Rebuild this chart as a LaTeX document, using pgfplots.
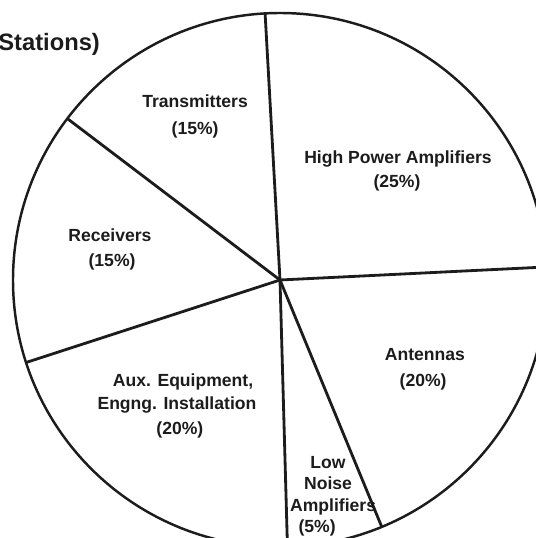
\documentclass[border=0pt]{standalone}
\usepackage{pgfplots}
\pgfplotsset{compat=1.18}
\usepackage{fontspec}
\setmainfont{Liberation Sans}
\definecolor{ink}{HTML}{1C1C1C}
\begin{document}
\begin{tikzpicture}
\begin{axis}[
  name=ax,
  scale only axis,
  width=10.72cm, height=10.76cm,
  xmin=-1.0487, xmax=0.9588,
  ymin=-0.9663, ymax=1.0487,
  hide axis,
  clip=true,
]
% pie outline
\draw[ink, line width=1.4pt] (axis cs:0,0) circle[radius=1];
% sector boundaries (angle in degrees, radius)
\addplot[ink, line width=1.6pt, data cs=polar] coordinates {(0,0) (93.2,1)};
\addplot[ink, line width=1.6pt, data cs=polar] coordinates {(0,0) (2.8,1)};
\addplot[ink, line width=1.6pt, data cs=polar] coordinates {(0,0) (-67.6,1)};
\addplot[ink, line width=1.6pt, data cs=polar] coordinates {(0,0) (-88.4,1.05)};
\addplot[ink, line width=1.6pt, data cs=polar] coordinates {(0,0) (198,1)};
\addplot[ink, line width=1.6pt, data cs=polar] coordinates {(0,0) (142.8,1)};
% labels
\begin{scope}[every node/.style={text=ink, font=\bfseries\fontsize{10}{12}\selectfont, inner sep=0pt}]
\node[anchor=base west, font=\bfseries\fontsize{13.5}{15}\selectfont] at (axis cs:-1.056,0.858) {Stations)};
\node at (axis cs:-0.318,0.670) {Transmitters};
\node at (axis cs:-0.318,0.562) {(15\%)};
\node at (axis cs:0.442,0.453) {High Power Amplifiers};
\node at (axis cs:0.438,0.363) {(25\%)};
\node at (axis cs:-0.637,0.169) {Receivers};
\node at (axis cs:-0.629,0.067) {(15\%)};
\node at (axis cs:0.543,-0.281) {Antennas};
\node at (axis cs:0.536,-0.382) {(20\%)};
\node at (axis cs:-0.363,-0.382) {Aux. Equipment,};
\node at (axis cs:-0.386,-0.468) {Engng. Installation};
\node at (axis cs:-0.375,-0.562) {(20\%)};
\node at (axis cs:0.180,-0.685) {Low};
\node at (axis cs:0.180,-0.760) {Noise};
\node at (axis cs:0.199,-0.850) {Amplifiers};
\node at (axis cs:0.139,-0.929) {(5\%)};
\end{scope}
\end{axis}
\pgfresetboundingbox
\useasboundingbox (ax.south west) rectangle (ax.north east);
\end{tikzpicture}
\end{document}
